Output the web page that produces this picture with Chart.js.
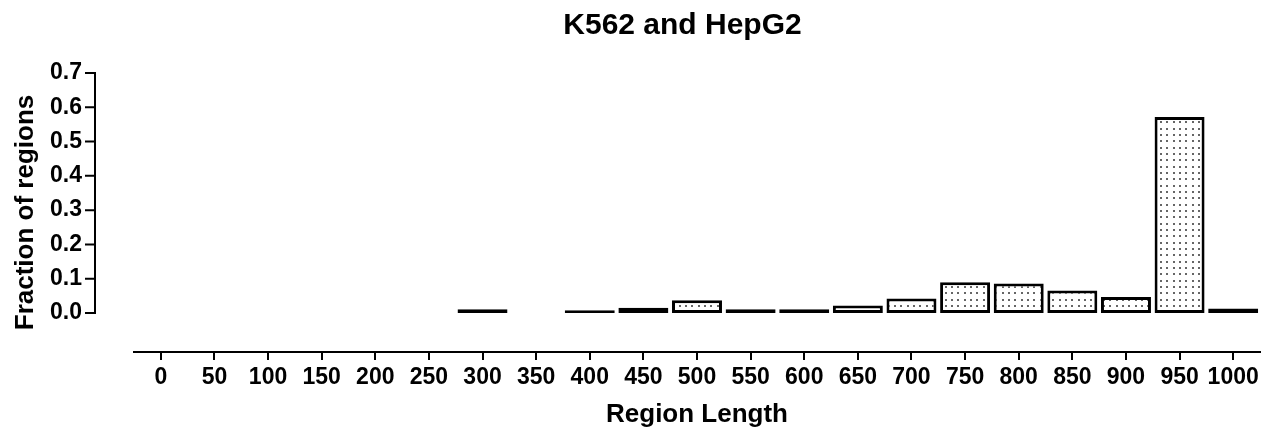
<!DOCTYPE html>
<html>
<head>
<meta charset="utf-8">
<script src="https://cdn.jsdelivr.net/npm/chart.js@4"></script>
<style>
  html, body { margin: 0; padding: 0; background: #fff; }
  #wrap { width: 1263px; height: 433px; }
</style>
</head>
<body>
<div id="wrap"><canvas id="chart"></canvas></div>
<script>
// data
const chartTitle = 'K562 and HepG2';
const regionLength = ['0', '50', '100', '150', '200', '250', '300', '350', '400', '450', '500',
                      '550', '600', '650', '700', '750', '800', '850', '900', '950', '1000'];
const fraction = [null, null, null, null, null, null, 0.011, null, 0.008, 0.015, 0.037,
                  0.011, 0.011, 0.022, 0.042, 0.090, 0.086, 0.066, 0.047, 0.572, 0.013];
const yTicks = [0, 0.1, 0.2, 0.3, 0.4, 0.5, 0.6, 0.7];

const FONT = '"Liberation Sans", Arial, sans-serif';

// stippled fill like the Prism bars
function dotPattern(ctx) {
  const c = document.createElement('canvas');
  c.width = 19; c.height = 19;
  const g = c.getContext('2d');
  g.fillStyle = '#fff';
  g.fillRect(0, 0, 19, 19);
  g.fillStyle = '#666';
  [1, 7, 14].forEach(x => [1, 7, 14].forEach(y => g.fillRect(x, y, 2, 2)));
  return ctx.createPattern(c, 'repeat');
}

// y axis stands off to the left of the x axis, and the title sits over both
const prismAxes = {
  id: 'prismAxes',
  afterDraw(chart) {
    const { ctx, chartArea, scales: { y } } = chart;
    const axisX = chartArea.left - 39;
    ctx.save();
    ctx.strokeStyle = '#000';
    ctx.lineWidth = 2;
    ctx.beginPath();
    ctx.moveTo(axisX, y.getPixelForValue(yTicks[0]) + 1);
    ctx.lineTo(axisX, y.getPixelForValue(yTicks[yTicks.length - 1]) - 1);
    yTicks.forEach(v => {
      const py = y.getPixelForValue(v);
      ctx.moveTo(axisX - 10, py);
      ctx.lineTo(axisX, py);
    });
    ctx.stroke();

    ctx.fillStyle = '#000';
    ctx.font = 'bold 30px ' + FONT;
    ctx.textAlign = 'center';
    ctx.textBaseline = 'middle';
    ctx.fillText(chartTitle, (axisX + chartArea.right) / 2 + 5, 26);
    ctx.restore();
  }
};

const canvas = document.getElementById('chart');
const ctx = canvas.getContext('2d');

new Chart(ctx, {
  type: 'bar',
  data: {
    labels: regionLength,
    datasets: [{
      label: chartTitle,
      data: fraction,
      backgroundColor: dotPattern(ctx),
      borderColor: '#000',
      borderWidth: 3,
      borderSkipped: false,
      inflateAmount: 0,
      barPercentage: 0.932,
      categoryPercentage: 1
    }]
  },
  options: {
    responsive: true,
    maintainAspectRatio: false,
    animation: false,
    layout: { padding: { top: 73, left: 6, right: 3, bottom: 2 } },
    plugins: {
      legend: { display: false },
      tooltip: { enabled: false },
      title: { display: false }
    },
    scales: {
      x: {
        offset: true,
        afterFit: s => { s.height = 79; },
        grid: { display: true, drawOnChartArea: false, offset: false, tickLength: 8, color: '#000', lineWidth: 2 },
        border: { display: true, color: '#000', width: 2 },
        ticks: {
          color: '#000',
          font: { family: FONT, size: 23, weight: 'bold' },
          padding: 4,
          maxRotation: 0,
          autoSkip: false
        },
        title: {
          display: true,
          text: 'Region Length',
          color: '#000',
          font: { family: FONT, size: 26, weight: 'bold' },
          padding: { top: 4, bottom: 1 }
        }
      },
      y: {
        min: -0.1137,
        max: 0.7,
        afterBuildTicks: s => { s.ticks = yTicks.map(v => ({ value: v })); },
        afterFit: s => { s.width = 128; },
        grid: { display: false, drawTicks: false },
        border: { display: false },
        ticks: {
          color: '#000',
          font: { family: FONT, size: 23, weight: 'bold' },
          padding: 52,
          callback: v => v.toFixed(1)
        },
        title: {
          display: true,
          text: 'Fraction of regions',
          color: '#000',
          font: { family: FONT, size: 26, weight: 'bold' },
          padding: { top: 4, bottom: 8 }
        }
      }
    }
  },
  plugins: [prismAxes]
});
</script>
</body>
</html>
